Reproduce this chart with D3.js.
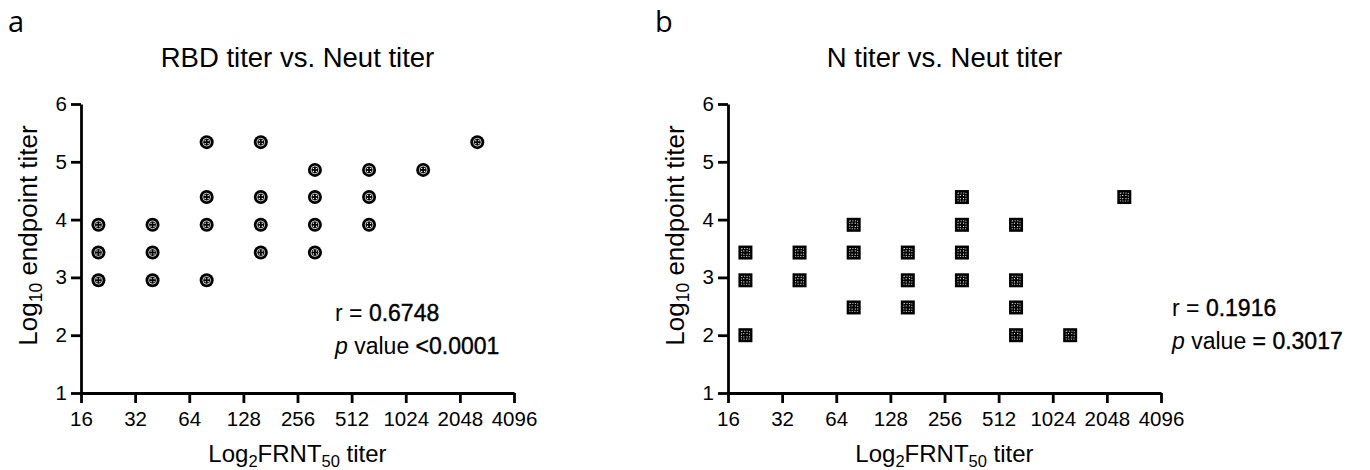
<!DOCTYPE html>
<html>
<head>
<meta charset="utf-8">
<script src="https://cdn.jsdelivr.net/npm/d3@7/dist/d3.min.js"></script>
<style>
  html, body { margin: 0; padding: 0; background: #fff; }
  svg { display: block; font-family: "Liberation Sans", Arial, sans-serif; }
</style>
</head>
<body>
<svg id="chart" width="1370" height="470"></svg>
<script>
// ---- data ----
const xTickValues = [16, 32, 64, 128, 256, 512, 1024, 2048, 4096];
const yTickValues = [1, 2, 3, 4, 5, 6];

// Panel a: RBD titer vs neut titer
const rbdNeut = [20, 20, 20, 40, 40, 40, 80, 80, 80, 80, 160, 160, 160, 160, 320, 320, 320, 320, 640, 640, 640, 1280, 2560];
const rbdLog10 = [3.91, 3.43, 2.95, 3.91, 3.43, 2.95, 5.34, 4.39, 3.91, 2.95, 5.34, 4.39, 3.91, 3.43, 4.86, 4.39, 3.91, 3.43, 4.86, 4.39, 3.91, 4.86, 5.34];

// Panel b: N titer vs neut titer
const nNeut = [20, 20, 20, 40, 40, 80, 80, 80, 160, 160, 160, 320, 320, 320, 320, 640, 640, 640, 640, 1280, 2560];
const nLog10 = [3.43, 2.95, 2.00, 3.43, 2.95, 3.91, 3.43, 2.48, 3.43, 2.95, 2.48, 4.39, 3.91, 3.43, 2.95, 3.91, 2.95, 2.48, 2.00, 2.00, 4.39];

const panelLetters = ["a", "b"];
const panelTitles = ["RBD titer vs. Neut titer", "N titer vs. Neut titer"];
const rValues = ["0.6748", "0.1916"];
const pValues = ["<0.0001", "= 0.3017"];

// ---- drawing ----
const svg = d3.select("#chart");
const plotW = 433, plotH = 289;
const panels = [
  { ox: 81, oy: 104, xs: rbdNeut, ys: rbdLog10, marker: "circle", statX: 335, statY: 321 },
  { ox: 728, oy: 104, xs: nNeut, ys: nLog10, marker: "square", statX: 1172, statY: 316 }
];

panels.forEach((p, i) => {
  const x = d3.scaleLog().base(2).domain([16, 4096]).range([0, plotW]);
  const y = d3.scaleLinear().domain([1, 6]).range([plotH, 0]);

  // panel letter
  svg.append("text")
    .attr("x", p.ox - 73).attr("y", 32)
    .attr("font-size", 29)
    .attr("font-family", "'Open Sans', 'Noto Sans', sans-serif")
    .text(panelLetters[i]);

  const g = svg.append("g").attr("transform", `translate(${p.ox},${p.oy})`);

  // title
  g.append("text")
    .attr("x", plotW / 2).attr("y", 67 - p.oy)
    .attr("text-anchor", "middle")
    .attr("font-size", 27.5)
    .text(panelTitles[i]);

  // axes
  const xAxis = d3.axisBottom(x).tickValues(xTickValues)
    .tickFormat(d3.format("d")).tickSize(10).tickSizeOuter(0).tickPadding(8);
  const yAxis = d3.axisLeft(y).tickValues(yTickValues)
    .tickFormat(d3.format("d")).tickSize(10).tickSizeOuter(0).tickPadding(4);

  const gx = g.append("g").attr("transform", `translate(0,${plotH})`).call(xAxis);
  const gy = g.append("g").call(yAxis);
  [gx, gy].forEach(ax => {
    ax.select(".domain").attr("stroke", "#000").attr("stroke-width", 2.8);
    ax.selectAll(".tick line").attr("stroke", "#000").attr("stroke-width", 2.8);
    ax.selectAll(".tick text").attr("fill", "#000").attr("font-size", 20.5)
      .attr("font-family", "'Liberation Sans', Arial, sans-serif");
  });

  // y axis label (relative to the panel's y axis)
  const yl = g.append("text")
    .attr("transform", `translate(-44,${plotH / 2 - 13}) rotate(-90)`)
    .attr("text-anchor", "middle")
    .attr("font-size", 26);
  yl.append("tspan").text("Log");
  yl.append("tspan").attr("font-size", 17.5).attr("dy", 5).text("10");
  yl.append("tspan").attr("dy", -5).text(" endpoint titer");

  // x axis label
  const xl = g.append("text")
    .attr("x", plotW / 2).attr("y", 462 - p.oy)
    .attr("text-anchor", "middle")
    .attr("font-size", 24);
  xl.append("tspan").text("Log");
  xl.append("tspan").attr("font-size", 16.5).attr("dy", 5).text("2");
  xl.append("tspan").attr("dy", -5).text("FRNT");
  xl.append("tspan").attr("font-size", 16.5).attr("dy", 5).text("50");
  xl.append("tspan").attr("dy", -5).text(" titer");

  // points
  const pts = p.xs.map((v, k) => ({ x: v, y: p.ys[k] }));
  const mk = g.append("g").selectAll("g").data(pts).join("g")
    .attr("transform", d => `translate(${x(d.x)},${y(d.y)})`);
  if (p.marker === "circle") {
    mk.append("circle").attr("r", 7).attr("fill", "#000");
    mk.append("circle").attr("r", 3.9).attr("fill", "none").attr("stroke", "#fff").attr("stroke-width", 0.8);
    [[-1.5, -1.5], [1.5, -1.5], [-1.5, 1.5], [1.5, 1.5]].forEach(([dx, dy]) =>
      mk.append("circle").attr("cx", dx).attr("cy", dy).attr("r", 0.7).attr("fill", "#fff"));
  } else {
    mk.append("rect").attr("x", -7).attr("y", -7).attr("width", 14).attr("height", 14).attr("fill", "#000");
    mk.append("rect").attr("x", -4).attr("y", -4).attr("width", 8).attr("height", 8)
      .attr("fill", "none").attr("stroke", "#fff").attr("stroke-width", 0.8)
      .attr("stroke-dasharray", "1.2 1.4");
    [[-1.6, -1.6], [1.6, -1.6], [-1.6, 1.6], [1.6, 1.6]].forEach(([dx, dy]) =>
      mk.append("circle").attr("cx", dx).attr("cy", dy).attr("r", 0.6).attr("fill", "#fff"));
  }

  // statistics text
  const t1 = svg.append("text").attr("x", p.statX).attr("y", p.statY).attr("font-size", 23);
  t1.append("tspan").text("r = ");
  t1.append("tspan").attr("stroke", "#000").attr("stroke-width", 0.4).text(rValues[i]);
  const t2 = svg.append("text").attr("x", p.statX).attr("y", p.statY + 33).attr("font-size", 23);
  t2.append("tspan").attr("font-style", "italic").text("p");
  t2.append("tspan").text(" value ");
  t2.append("tspan").attr("stroke", "#000").attr("stroke-width", 0.4).text(pValues[i]);
});
</script>
</body>
</html>
